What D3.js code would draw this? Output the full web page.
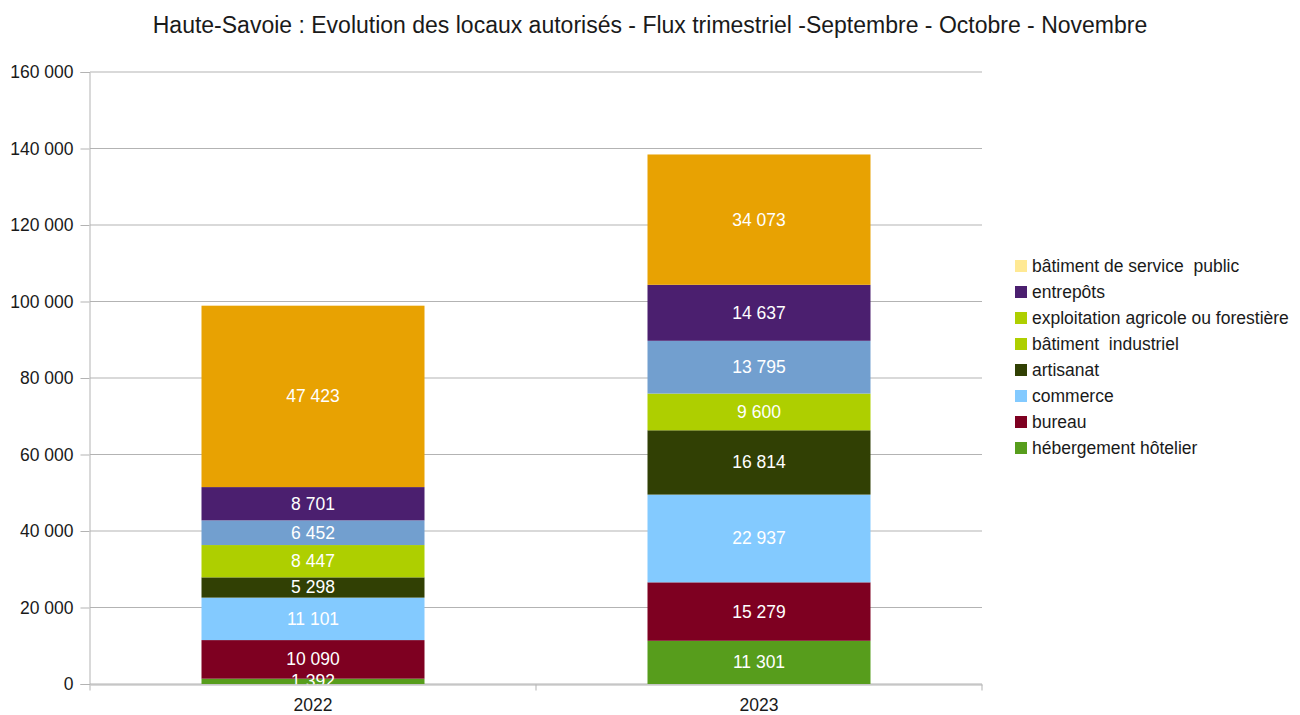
<!DOCTYPE html>
<html>
<head>
<meta charset="utf-8">
<script src="https://cdn.jsdelivr.net/npm/d3@7"></script>
<style>
  body { margin: 0; background: #fff; }
  svg text { font-family: "Liberation Sans", Arial, sans-serif; }
</style>
</head>
<body>
<div id="chart"></div>
<script>
const years = ["2022", "2023"];

// bar segments, bottom to top
const seriesNames = ["hébergement hôtelier", "bureau", "commerce", "artisanat",
    "bâtiment  industriel", "exploitation agricole ou forestière", "entrepôts",
    "bâtiment de service  public"];
const seriesColors = ["#579d1c", "#7e0021", "#83caff", "#314004",
    "#aecf00", "#729fcf", "#4b1f6f", "#e8a202"];
const values2022 = [1392, 10090, 11101, 5298, 8447, 6452, 8701, 47423];
const values2023 = [11301, 15279, 22937, 16814, 9600, 13795, 14637, 34073];

// legend as shown in the picture, top to bottom
const legendNames = ["bâtiment de service  public", "entrepôts",
    "exploitation agricole ou forestière", "bâtiment  industriel", "artisanat",
    "commerce", "bureau", "hébergement hôtelier"];
const legendColors = ["#ffe994", "#4b1f6f", "#aecf00", "#aecf00", "#314004",
    "#83caff", "#7e0021", "#579d1c"];

const yTicks = [0, 20000, 40000, 60000, 80000, 100000, 120000, 140000, 160000];

const W = 1300, H = 715;
const margin = { top: 72, left: 90, right: 318, bottom: 31 };
const width = W - margin.left - margin.right;
const height = H - margin.top - margin.bottom;

const fmt = v => d3.format(",")(v).replace(/,/g, " ");

const svg = d3.select("#chart").append("svg").attr("width", W).attr("height", H);

svg.append("text")
    .attr("x", 650).attr("y", 33)
    .attr("text-anchor", "middle")
    .attr("font-size", 23).attr("fill", "#1a1a1a")
    .text("Haute-Savoie : Evolution des locaux autorisés - Flux trimestriel -Septembre - Octobre - Novembre");

const g = svg.append("g").attr("transform", `translate(${margin.left},${margin.top})`);

const x = d3.scaleBand().domain(years).range([0, width]).paddingInner(0).paddingOuter(0);
const y = d3.scaleLinear().domain([0, 160000]).range([height, 0]);

// gridlines
g.append("g").selectAll("line").data(yTicks).join("line")
    .attr("x1", 0).attr("x2", width)
    .attr("y1", d => y(d)).attr("y2", d => y(d))
    .attr("stroke", "#b3b3b3").attr("stroke-width", 1);

// y axis
const yAxis = g.append("g")
    .attr("transform", "translate(-0.5,0)")
    .call(d3.axisLeft(y).tickValues(yTicks).tickFormat(fmt).tickSize(9).tickPadding(7));
yAxis.select(".domain").attr("stroke", "#b3b3b3");
yAxis.selectAll(".tick line").attr("stroke", "#b3b3b3");
yAxis.selectAll("text").attr("font-size", 17.5).attr("fill", "#1a1a1a")
    .style("font-family", "'Liberation Sans', Arial, sans-serif");

// stacks
const stackData = years.map((yr, i) => {
    const vals = i === 0 ? values2022 : values2023;
    let acc = 0;
    return vals.map((v, k) => {
        const seg = { year: yr, k: k, v: v, y0: acc, y1: acc + v };
        acc += v;
        return seg;
    });
}).flat();

const barW = x.bandwidth() * 0.5;
const bars = g.append("g");
bars.selectAll("rect").data(stackData).join("rect")
    .attr("x", d => x(d.year) + (x.bandwidth() - barW) / 2)
    .attr("width", barW)
    .attr("y", d => y(d.y1))
    .attr("height", d => y(d.y0) - y(d.y1))
    .attr("fill", d => seriesColors[d.k]);

bars.selectAll("text").data(stackData).join("text")
    .attr("x", d => x(d.year) + x.bandwidth() / 2)
    .attr("y", d => (y(d.y0) + y(d.y1)) / 2 + 6)
    .attr("text-anchor", "middle")
    .attr("font-size", 17.5).attr("fill", "#fff")
    .text(d => fmt(d.v));

// x axis
const xAxis = g.append("g")
    .attr("transform", `translate(0,${height + 0.5})`)
    .call(d3.axisBottom(x).tickSize(0).tickPadding(14));
xAxis.select(".domain").attr("stroke", "#b3b3b3");
xAxis.selectAll("text").attr("font-size", 17.5).attr("fill", "#1a1a1a")
    .style("font-family", "'Liberation Sans', Arial, sans-serif");
// category boundary ticks
xAxis.append("g").selectAll("line").data([0, width / 2, width]).join("line")
    .attr("x1", d => d).attr("x2", d => d)
    .attr("y1", 0).attr("y2", 6)
    .attr("stroke", "#b3b3b3");

// legend
const legend = svg.append("g").attr("transform", "translate(1015,266)");
const item = legend.selectAll("g").data(legendNames).join("g")
    .attr("transform", (d, i) => `translate(0,${i * 26})`);
item.append("rect")
    .attr("x", 0).attr("y", -6).attr("width", 12).attr("height", 12)
    .attr("fill", (d, i) => legendColors[i]);
item.append("text")
    .attr("x", 17).attr("y", 6)
    .attr("font-size", 17.5).attr("fill", "#1a1a1a")
    .attr("xml:space", "preserve")
    .style("white-space", "pre")
    .text(d => d);
</script>
</body>
</html>
